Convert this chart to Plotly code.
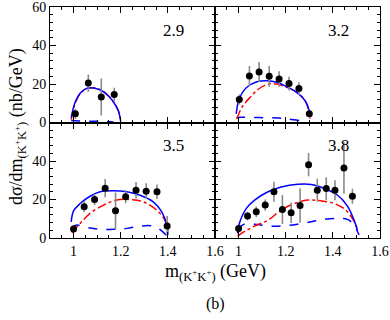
import plotly.graph_objects as go
from plotly.subplots import make_subplots

# MARK: data points (x = m(K+K+) GeV, y = dsigma/dm nb/GeV)
X_29 = [1.0075, 1.0625, 1.1175, 1.1725]
Y_29 = [4.5, 20.5, 13.3, 14.5]
E_29 = [2.6, 4.5, 9.6, 3.5]

X_32 = [1.003, 1.046, 1.087, 1.130, 1.172, 1.214, 1.256, 1.300]
Y_32 = [12.0, 24.1, 26.2, 24.0, 22.6, 20.2, 17.6, 4.5]
E_32 = [2.6, 5.2, 5.2, 5.4, 4.0, 3.6, 3.3, 1.0]

X_35 = [1.000, 1.045, 1.089, 1.134, 1.178, 1.221, 1.265, 1.308, 1.354, 1.397]
Y_35 = [4.7, 16.2, 20.0, 25.9, 14.1, 21.4, 24.8, 24.3, 24.0, 6.2]
E_35 = [1.2, 2.8, 3.0, 4.7, 9.5, 3.4, 4.3, 4.1, 3.8, 5.2]

X_38 = [1.000, 1.038, 1.075, 1.113, 1.150, 1.186, 1.223, 1.261, 1.297, 1.334, 1.372, 1.409, 1.447, 1.483]
Y_38 = [5.0, 11.4, 13.6, 17.1, 24.0, 14.8, 13.1, 16.9, 38.1, 24.8, 25.7, 24.8, 36.4, 21.7]
E_38 = [1.5, 2.3, 2.8, 2.9, 5.2, 7.5, 5.3, 9.0, 6.0, 6.0, 5.9, 5.2, 13.4, 3.9]

# MARK: model curves
# 2.9
FULL_X_29 = [0.99, 1.0, 1.01, 1.03, 1.06, 1.09, 1.12, 1.15, 1.17, 1.19, 1.197, 1.2]
FULL_Y_29 = [2.5, 8.0, 11.5, 15.5, 17.9, 17.8, 16.5, 13.5, 10.5, 6.0, 2.7, 0.5]
PHI_X_29 = [0.99, 1.0, 1.01, 1.03, 1.06, 1.09, 1.12, 1.15, 1.17, 1.19, 1.197, 1.2]
PHI_Y_29 = [1.5, 7.0, 11.0, 15.3, 17.8, 17.9, 16.7, 13.6, 10.6, 6.2, 3.0, 0.5]
BG_X_29 = [0.99, 1.02, 1.06, 1.10, 1.14, 1.17]
BG_Y_29 = [1.0, 0.8, 0.7, 0.6, 0.5, 0.3]

# 3.2
FULL_X_32 = [0.990, 1.003, 1.035, 1.078, 1.120, 1.162, 1.204, 1.247, 1.282, 1.300, 1.303]
FULL_Y_32 = [4.5, 12.3, 18.3, 21.2, 21.7, 20.9, 18.6, 15.7, 11.4, 6.2, 3.1]
PHI_X_32 = [0.993, 1.014, 1.049, 1.085, 1.127, 1.162, 1.204, 1.247, 1.282, 1.300, 1.303]
PHI_Y_32 = [1.9, 7.9, 13.1, 17.4, 20.0, 20.0, 18.3, 15.7, 11.4, 5.0, 2.0]
BG_X_32 = [0.990, 1.007, 1.06, 1.12, 1.17, 1.20, 1.26, 1.29]
BG_Y_32 = [2.4, 2.7, 2.6, 2.5, 2.4, 1.9, 1.0, 0.3]

# 3.5
FULL_X_35 = [0.990, 1.000, 1.028, 1.070, 1.113, 1.169, 1.226, 1.282, 1.338, 1.374, 1.397, 1.400]
FULL_Y_35 = [8.4, 14.1, 17.9, 21.7, 24.0, 24.5, 24.0, 22.2, 18.8, 13.6, 6.2, 1.6]
PHI_X_35 = [0.993, 1.028, 1.070, 1.127, 1.183, 1.240, 1.296, 1.352, 1.387, 1.400]
PHI_Y_35 = [2.7, 7.6, 12.8, 17.1, 19.7, 20.0, 18.8, 14.5, 9.3, 4.1]
BG_X_35 = [0.990, 1.014, 1.056, 1.113, 1.169, 1.226, 1.282, 1.338, 1.366, 1.397]
BG_Y_35 = [5.5, 6.7, 5.5, 4.5, 4.5, 5.0, 6.2, 6.2, 4.5, 1.0]

# 3.8
FULL_X_38 = [0.996, 1.000, 1.033, 1.068, 1.125, 1.181, 1.251, 1.308, 1.364, 1.420, 1.462, 1.490, 1.504]
FULL_Y_38 = [2.4, 6.2, 15.4, 19.7, 24.0, 26.5, 27.9, 27.8, 25.7, 22.2, 16.6, 9.3, 4.1]
PHI_X_38 = [0.996, 1.024, 1.068, 1.125, 1.181, 1.237, 1.294, 1.350, 1.406, 1.455, 1.487, 1.506]
PHI_Y_38 = [1.0, 3.3, 6.2, 9.3, 14.5, 17.9, 19.7, 19.3, 17.9, 14.5, 9.3, 4.1]
BG_X_38 = [0.996, 1.024, 1.068, 1.125, 1.181, 1.251, 1.308, 1.364, 1.420, 1.462, 1.490, 1.511]
BG_Y_38 = [4.5, 7.2, 7.2, 6.2, 6.2, 7.2, 8.4, 9.7, 10.2, 9.7, 6.7, 1.6]

PANELS = [
    ("2.9", 1, 1, X_29, Y_29, E_29, FULL_X_29, FULL_Y_29, PHI_X_29, PHI_Y_29, BG_X_29, BG_Y_29),
    ("3.2", 1, 2, X_32, Y_32, E_32, FULL_X_32, FULL_Y_32, PHI_X_32, PHI_Y_32, BG_X_32, BG_Y_32),
    ("3.5", 2, 1, X_35, Y_35, E_35, FULL_X_35, FULL_Y_35, PHI_X_35, PHI_Y_35, BG_X_35, BG_Y_35),
    ("3.8", 2, 2, X_38, Y_38, E_38, FULL_X_38, FULL_Y_38, PHI_X_38, PHI_Y_38, BG_X_38, BG_Y_38),
]

TOP_Y_TICKS = [0, 20, 40, 60]
BOTTOM_Y_TICKS = [0, 20, 40]

FONT = "Liberation Serif"
BLUE = "#0000ff"
RED = "#ff0000"

fig = make_subplots(rows=2, cols=2, horizontal_spacing=0, vertical_spacing=0)

for label, row, col, x, y, err, fx, fy, px, py, bx, by in PANELS:
    fig.add_trace(
        go.Scatter(x=bx, y=by, mode="lines", line_shape="spline",
                   line={"color": BLUE, "width": 1.5, "dash": "dash"}, showlegend=False),
        row=row, col=col,
    )
    fig.add_trace(
        go.Scatter(x=px, y=py, mode="lines", line_shape="spline",
                   line={"color": RED, "width": 1.5, "dash": "dashdot"}, showlegend=False),
        row=row, col=col,
    )
    fig.add_trace(
        go.Scatter(x=fx, y=fy, mode="lines", line_shape="spline",
                   line={"color": BLUE, "width": 1.5}, showlegend=False),
        row=row, col=col,
    )
    fig.add_trace(
        go.Scatter(
            x=x, y=y, mode="markers",
            marker={"color": "black", "size": 7},
            error_y={"type": "data", "array": err, "color": "#8a8a8a", "thickness": 1.6, "width": 0},
            showlegend=False,
        ),
        row=row, col=col,
    )
    fig.add_annotation(
        text=label, x=1.425, y=48, showarrow=False,
        font={"family": FONT, "size": 17, "color": "black"},
        row=row, col=col,
    )

# MARK: axes
axis_common = {
    "showline": True,
    "linecolor": "black",
    "linewidth": 1,
    "mirror": "allticks",
    "ticks": "inside",
    "ticklen": 6,
    "tickcolor": "black",
    "showgrid": False,
    "zeroline": False,
    "automargin": False,
    "ticklabeloverflow": "allow",
    "tickfont": {"family": FONT, "size": 14, "color": "black"},
}
fig.update_xaxes(
    range=[0.9, 1.6], tickmode="linear", tick0=1.0, dtick=0.2,
    minor={"tickmode": "linear", "dtick": 0.05, "tick0": 1.0, "ticks": "inside",
           "ticklen": 3, "tickcolor": "black", "showgrid": False},
    **axis_common,
)
fig.update_yaxes(
    range=[0, 60],
    minor={"tickmode": "linear", "dtick": 4, "tick0": 0, "ticks": "inside",
           "ticklen": 3, "tickcolor": "black", "showgrid": False},
    **axis_common,
)
fig.update_xaxes(showticklabels=False, row=1)
fig.update_yaxes(tickmode="array", tickvals=TOP_Y_TICKS, row=1)
fig.update_yaxes(tickmode="array", tickvals=BOTTOM_Y_TICKS, row=2)
fig.update_yaxes(showticklabels=False, col=2)

# MARK: titles
fig.add_annotation(
    text="m<sub>(K<sup>+</sup>K<sup>+</sup>)</sub> (GeV)",
    xref="paper", yref="paper", x=0.5, y=-0.15, xanchor="center", yanchor="middle",
    showarrow=False,
    font={"family": FONT, "size": 18, "color": "black"},
)
fig.add_annotation(
    text="(b)",
    xref="paper", yref="paper", x=0.5, y=-0.285, xanchor="center", yanchor="middle",
    showarrow=False,
    font={"family": FONT, "size": 16, "color": "black"},
)
fig.add_annotation(
    text="dσ/dm<sub>(K<sup>+</sup>K<sup>+</sup>)</sub> (nb/GeV)",
    xref="paper", yref="paper", x=-0.1, y=0.48, xanchor="center", yanchor="middle",
    showarrow=False, textangle=-90,
    font={"family": FONT, "size": 18, "color": "black"},
)

fig.update_layout(
    width=390,
    height=320,
    margin={"l": 50, "r": 10, "t": 7, "b": 82},
    paper_bgcolor="white",
    plot_bgcolor="white",
)

# page body has a default 8px margin; drop it so the figure sits at the corner
fig.write_html(
    "out.html",
    config={"displayModeBar": False},
    post_script="document.body.style.margin='0';",
)
